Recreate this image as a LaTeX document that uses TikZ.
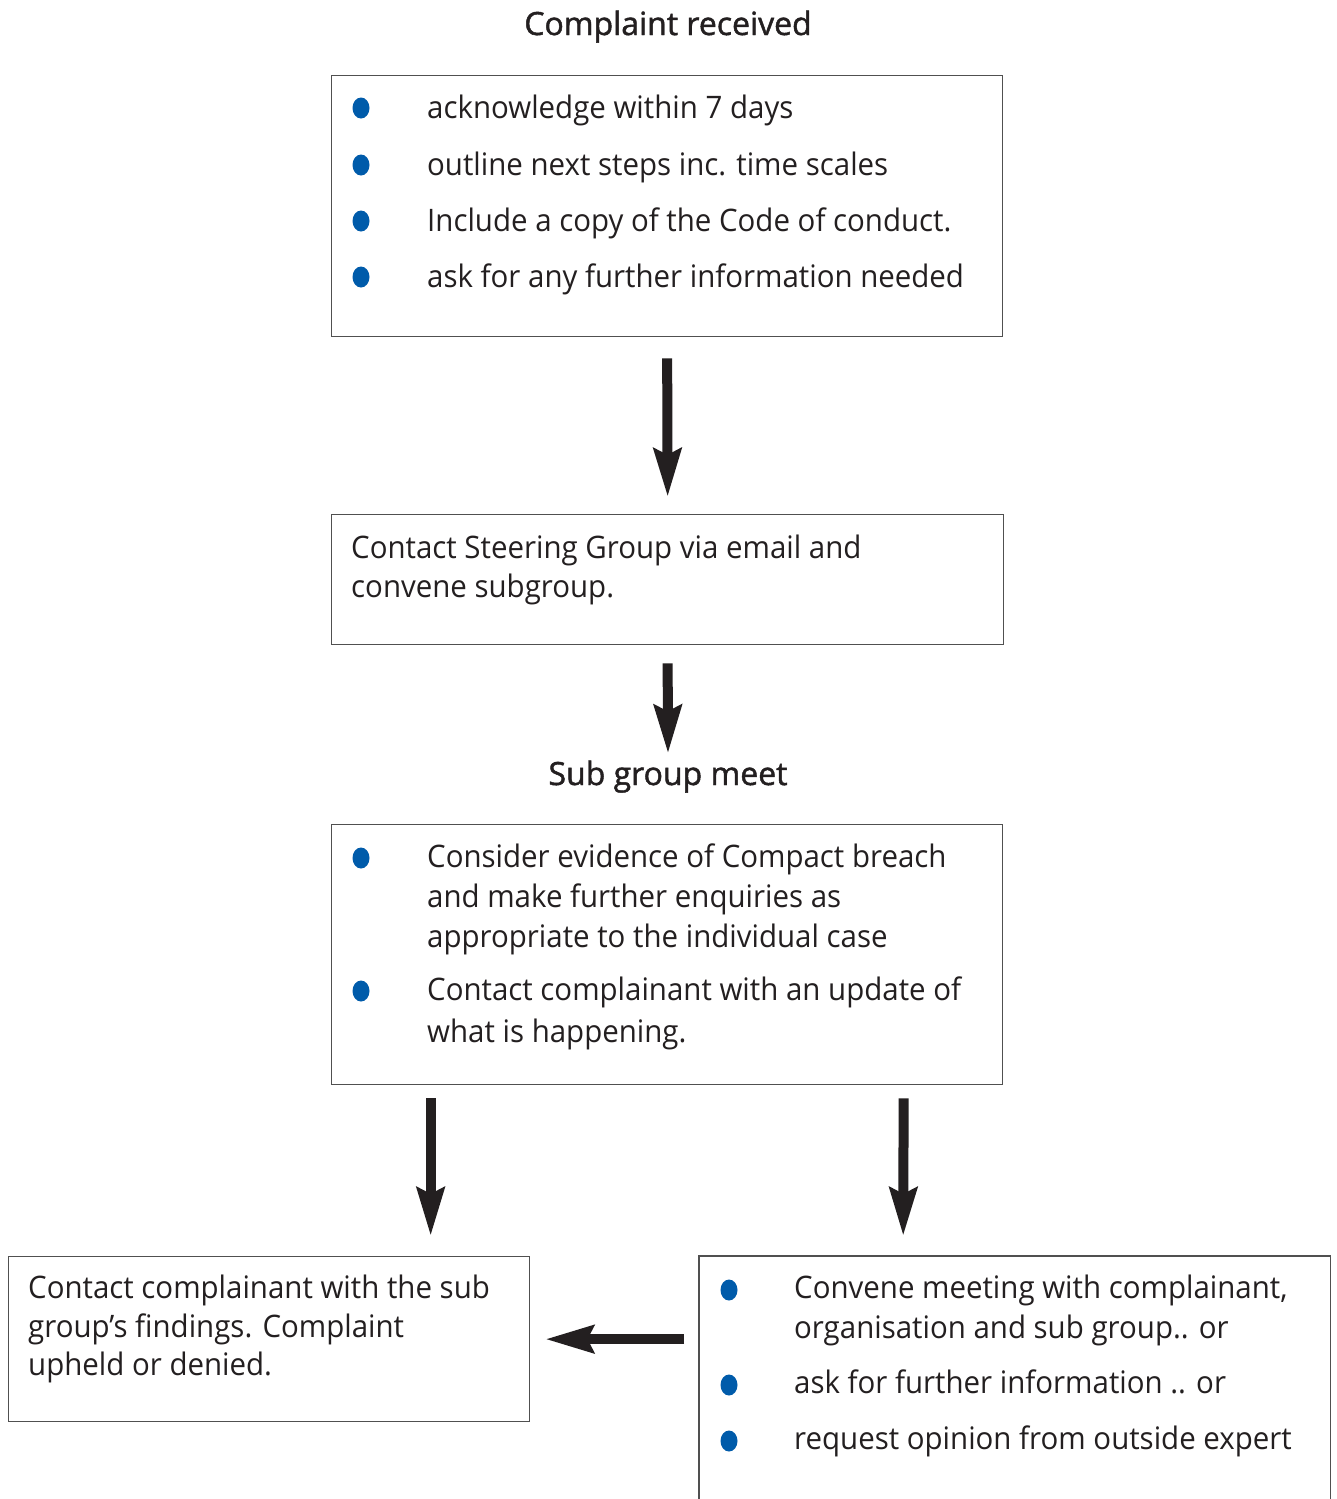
\documentclass[tikz,border=0pt]{standalone}
\usepackage{fontspec}
\setmainfont[FakeStretch=0.95]{Open Sans}
\newfontfamily\titlefont[FakeBold=1.4]{Open Sans}
\usetikzlibrary{arrows.meta,calc,shapes.geometric}
\definecolor{ink}{HTML}{231F20}
\definecolor{bul}{HTML}{005BAA}
\definecolor{edgec}{HTML}{505050}
\begin{document}
\begin{tikzpicture}[x=1pt,y=-1pt,
  box/.style={draw=edgec, line width=1.3pt, rectangle, inner sep=0pt, anchor=north west},
  openbox/.style={rectangle, inner sep=0pt, anchor=north west},
  txt/.style={anchor=base west, inner sep=0pt, text=ink, font=\fontsize{31}{37}\selectfont},
  ttl/.style={anchor=base, inner sep=0pt, text=ink, font=\titlefont\fontsize{32}{38}\selectfont},
  dot/.style={fill=bul, draw=none, ellipse, minimum width=17pt, minimum height=21pt, inner sep=0pt},
  arr/.style={draw=ink, line width=10pt, -{Stealth[length=48pt,width=27pt,inset=6pt]}},
]
\path[use as bounding box, fill=white] (0,0) rectangle (1336,1499);

% titles
\node[ttl] (t1) at (668,35) {Complaint received};
\node[ttl] (t2) at (668,785) {Sub group meet};

% box 1
\node[box, minimum width=671pt, minimum height=261pt] (b1) at (331,75) {};
\node[dot] (d11) at (361,108) {};
\node[dot] (d12) at (361,165) {};
\node[dot] (d13) at (361,221) {};
\node[dot] (d14) at (361,277) {};
\node[txt] (l11) at (427,118) {acknowledge within 7 days};
\node[txt] (l12) at (427,175) {outline next steps inc. time scales};
\node[txt] (l13) at (427,231) {Include a copy of the Code of conduct.};
\node[txt] (l14) at (427,287) {ask for any further information needed};

% box 2
\node[box, minimum width=672pt, minimum height=130pt] (b2) at (331,514) {};
\node[txt] (l21) at (351,558) {Contact Steering Group via email and};
\node[txt] (l22) at (351,597) {convene subgroup.};

% box 3
\node[box, minimum width=671pt, minimum height=260pt] (b3) at (331,824) {};
\node[dot] (d31) at (361,858) {};
\node[dot] (d32) at (361,991) {};
\node[txt] (l31) at (427,867) {Consider evidence of Compact breach};
\node[txt] (l32) at (427,907) {and make further enquiries as};
\node[txt] (l33) at (427,947) {appropriate to the individual case};
\node[txt] (l34) at (427,1000) {Contact complainant with an update of};
\node[txt] (l35) at (427,1042) {what is happening.};

% box 4
\node[box, minimum width=521pt, minimum height=165pt] (b4) at (8,1256) {};
\node[txt] (l41) at (28,1298) {Contact complainant with the sub};
\node[txt] (l42) at (28,1337) {group’s findings. Complaint};
\node[txt] (l43) at (28,1375) {upheld or denied.};

% box 5 (open at the bottom edge of the page)
\node[openbox, minimum width=631pt, minimum height=243pt] (b5) at (699,1256) {};
\draw[draw=edgec, line width=1.3pt] (b5.south west) |- (b5.north east) -- (b5.south east);
\node[dot] (d51) at (729,1290) {};
\node[dot] (d52) at (729,1385) {};
\node[dot] (d53) at (729,1441) {};
\node[txt] (l51) at (794,1298) {Convene meeting with complainant,};
\node[txt] (l52) at (794,1338) {organisation and sub group.. or};
\node[txt] (l53) at (794,1393) {ask for further information .. or};
\node[txt] (l54) at (794,1449) {request opinion from outside expert};

% arrows
\draw[arr] ([yshift=-21pt]b1.south) -- ([yshift=17pt]b2.north);
\draw[arr] ([yshift=-18pt]b2.south) -- ([yshift=7pt]t2.north);
\draw[arr] ([xshift=-236.5pt,yshift=-13pt]b3.south) -- ([xshift=161.5pt,yshift=20pt]b4.north);
\draw[arr] ([xshift=236.5pt,yshift=-13pt]b3.south) -- ([xshift=-111.5pt,yshift=20pt]b5.north);
\draw[arr] ($(b5.west |- b4.east)+(-15,0)$) -- ($(b4.east)+(15,0)$);
\end{tikzpicture}
\end{document}
